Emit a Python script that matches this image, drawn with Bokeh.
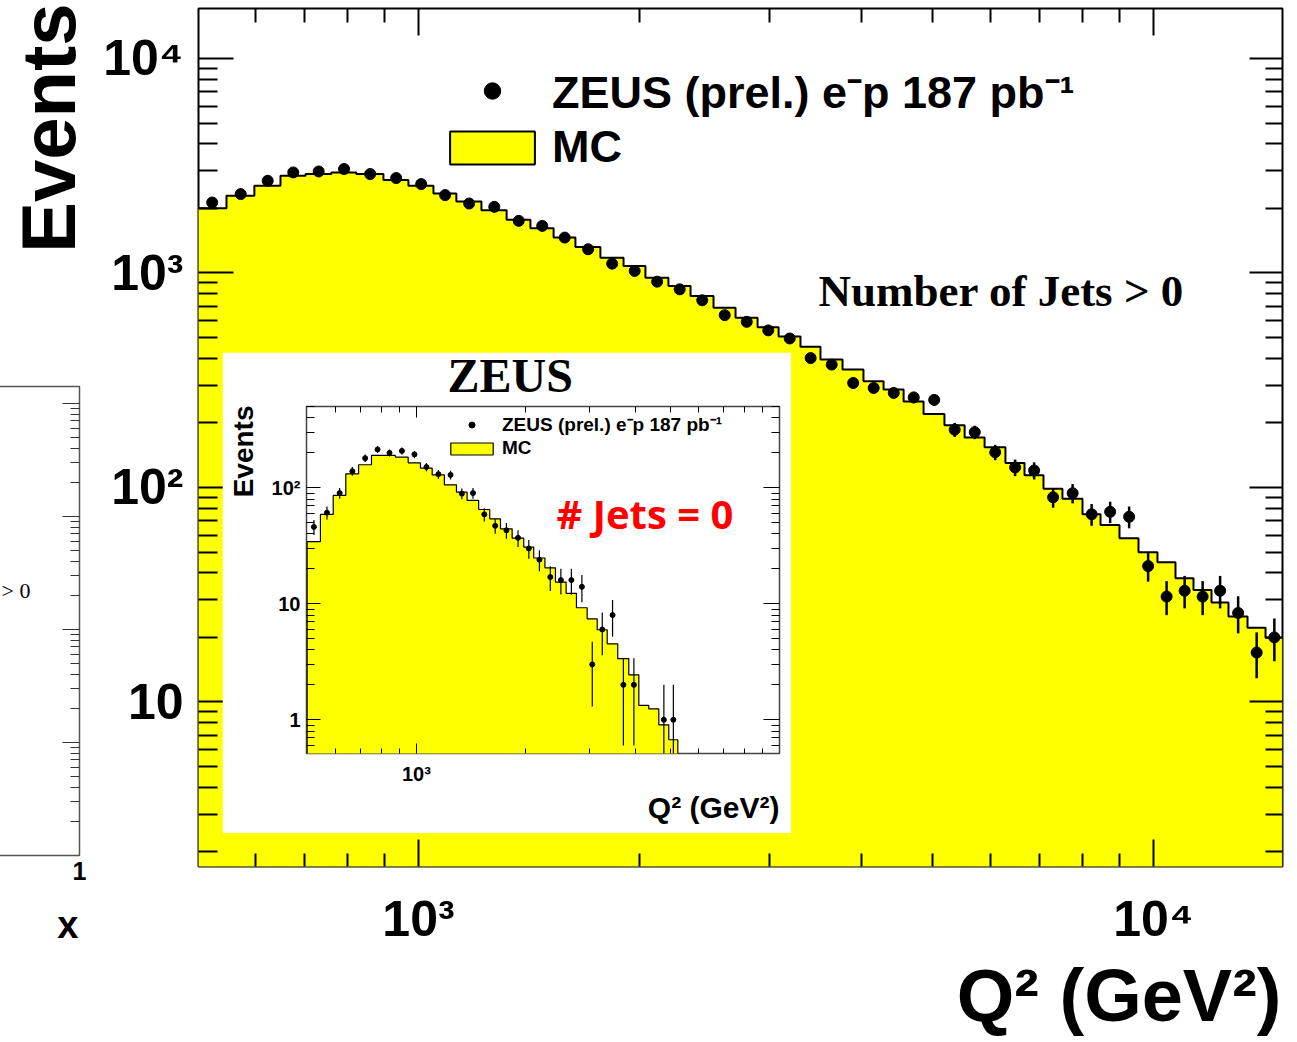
import math
from bokeh.plotting import figure
from bokeh.models import Range1d, FixedTicker, LogAxis, Legend, LegendItem
from bokeh.embed import file_html
from bokeh.resources import INLINE
from bokeh.core.properties import value

# ---------------- data ----------------
# main panel: Number of Jets > 0
main_edges = [500, 548, 598, 649, 702, 761, 823, 896, 969, 1048,
              1126, 1218, 1318, 1420, 1527, 1635, 1768, 1901, 2036, 2188,
              2345, 2520, 2700, 2893, 3090, 3309, 3523, 3775, 4031, 4293,
              4571, 4866, 5195, 5534, 5891, 6289, 6676, 7085, 7518, 8006,
              8471, 8989, 9541, 10125, 10713, 11335, 11993, 12648, 13425, 14205,
              15000]
main_mc = [2005, 2290, 2550, 2840, 2893, 2943, 2893, 2712, 2550, 2348,
           2154, 1963, 1769, 1618, 1462, 1323, 1179, 1078, 951, 870,
           781, 688, 618, 559, 505, 453, 395, 355, 313, 286,
           252, 220, 195, 171, 154, 130, 114, 98.6, 88.5, 75.0,
           66.9, 58.0, 49.9, 44.8, 37.7, 33.3, 29.1, 25.0, 22.2, 19.9]
main_data = [2131, 2332, 2691, 2943, 2974, 3052, 2893, 2770, 2597, 2307,
             2108, 2034, 1750, 1658, 1462, 1290, 1105, 1022, 911, 839,
             746, 636, 592, 540, 495, 401, 374, 307, 291, 276,
             263, 256, 186, 181, 146, 124, 120, 90, 94, 75,
             77, 73, 43, 31, 33, 31, 33, 26, 17, 20]
main_err = [46, 48, 52, 54, 55, 55, 54, 53, 51, 48,
            46, 45, 42, 41, 38, 36, 33, 32, 30, 29,
            27, 25, 24, 23, 22, 20, 19, 18, 17, 17,
            16, 16, 14, 13, 12, 11, 11, 9.5, 9.7, 8.7,
            8.8, 8.5, 6.6, 5.6, 5.7, 5.6, 5.7, 5.1, 4.1, 4.5]

# inset panel: # Jets = 0
inset_edges = [500, 544, 590, 639, 693, 752, 811, 875, 949, 1026,
               1105, 1194, 1289, 1379, 1484, 1592, 1704, 1835, 1975, 2104,
               2259, 2415, 2584, 2759, 2953, 3147, 3353, 3585, 3845, 4098,
               4365, 4651, 4955, 5247]
inset_mc = [34.4, 58.9, 85.9, 132, 158, 190, 190, 184, 164, 148,
            129, 106, 91.6, 77.8, 65.0, 54.0, 44.3, 36.8, 30.8, 24.8,
            20.4, 15.4, 12.3, 9.24, 7.42, 5.97, 4.52, 3.36, 2.44, 1.33,
            1.24, 0.905, 0.673]
inset_data = [46, 61, 90, 139, 180, 214, 200, 208, 194, 151,
              131, 129, 89, 90, 59, 47, 43, 37, 30, 24,
              17, 16, 16, 14, 3, 6, 8, 2, 2, 0,
              0, 1, 1]
inset_err = [6.8, 7.8, 9.5, 11.8, 13.4, 14.6, 14.1, 14.4, 13.9, 12.3,
             11.4, 11.4, 9.4, 9.5, 7.7, 6.9, 6.6, 6.1, 5.5, 4.9,
             4.1, 4.0, 4.0, 3.7, 1.7, 2.4, 2.8, 1.4, 1.4, 0,
             0, 1.0, 1.0]

# ticks and labels
main_x_major = [1000, 10000]
main_x_labels = ["10³", "10⁴"]
main_x_minor = [600, 700, 800, 900, 2000, 3000, 4000, 5000, 6000, 7000, 8000, 9000]
main_y_major = [10, 100, 1000, 10000]
main_y_labels = ["10", "10²", "10³", "10⁴"]
main_y_minor = [2, 3, 4, 5, 6, 7, 8, 9, 20, 30, 40, 50, 60, 70, 80, 90,
                200, 300, 400, 500, 600, 700, 800, 900,
                2000, 3000, 4000, 5000, 6000, 7000, 8000, 9000]
inset_x_major = [1000]
inset_x_labels = ["10³"]
inset_x_minor = [600, 700, 800, 900, 2000, 3000, 4000, 5000, 6000, 7000, 8000, 9000]
inset_y_major = [1, 10, 100]
inset_y_labels = ["1", "10", "10²"]
inset_y_minor = [0.6, 0.7, 0.8, 0.9, 2, 3, 4, 5, 6, 7, 8, 9,
                 20, 30, 40, 50, 60, 70, 80, 90, 200, 300, 400, 500]
side_x_major = [1]
side_x_labels = ["1"]
side_y_major = [10, 100, 1000, 10000]
side_y_minor = [2, 3, 4, 5, 6, 7, 8, 9, 20, 30, 40, 50, 60, 70, 80, 90,
                200, 300, 400, 500, 600, 700, 800, 900,
                2000, 3000, 4000, 5000, 6000, 7000, 8000, 9000]

legend_data_label = "ZEUS (prel.) e⁻p 187 pb⁻¹"
legend_mc_label = "MC"

YELLOW = "#ffff00"
SANS = "Liberation Sans"
SERIF = "Liberation Serif"


# ---------------- helpers ----------------
def pos(left, top):
    return {"position": "absolute", "left": f"{left}px", "top": f"{top}px"}


def centers(edges):
    return [(a + b) / 2 for a, b in zip(edges[:-1], edges[1:])]


def outline(edges, vals, floor):
    xs = [edges[0]]
    ys = [floor]
    for a, b, v in zip(edges[:-1], edges[1:], vals):
        xs += [a, b]
        ys += [v, v]
    xs.append(edges[-1])
    ys.append(floor)
    return xs, ys


def style_axis(ax, major, minor, labels, size, tin, tmin, lw, standoff, color="black"):
    ax.ticker = FixedTicker(ticks=major, minor_ticks=minor)
    ax.axis_line_color = None
    ax.major_tick_in = tin
    ax.major_tick_out = 0
    ax.minor_tick_in = tmin
    ax.minor_tick_out = 0
    ax.major_tick_line_color = color
    ax.minor_tick_line_color = color
    ax.major_tick_line_width = lw
    ax.minor_tick_line_width = lw
    ax.major_label_standoff = standoff
    if labels is None:
        ax.major_label_overrides = {t: "" for t in major}
        ax.major_label_text_font_size = "0px"
    else:
        ax.major_label_overrides = dict(zip(major, labels))
        ax.major_label_text_font_size = f"{size}px"
        ax.major_label_text_font = SANS
        ax.major_label_text_font_style = "bold"
        ax.major_label_text_color = "black"


def draw_hist(p, edges, mc, data, err, floor, msize, lw, elw):
    xs, ys = outline(edges, mc, floor)
    patch = p.patch(xs, ys, fill_color=YELLOW, line_color="black", line_width=lw)
    ctr = [c for c, d in zip(centers(edges), data) if d > 0]
    dv = [d for d in data if d > 0]
    ev = [e for d, e in zip(data, err) if d > 0]
    lo = [max(d - e, floor / 10) for d, e in zip(dv, ev)]
    hi = [d + e for d, e in zip(dv, ev)]
    p.segment(x0=ctr, x1=ctr, y0=lo, y1=hi, line_color="black", line_width=elw)
    pts = p.scatter(ctr, dv, size=msize, color="black", marker="circle")
    return patch, pts


# ---------------- main panel ----------------
main = figure(width=1290, height=1040, x_axis_type="log", y_axis_type="log",
              x_range=Range1d(502, 14980), y_range=Range1d(1.71, 17100),
              output_backend="svg", toolbar_location=None,
              min_border_left=198, min_border_right=8, min_border_top=8, min_border_bottom=174,
              background_fill_color="white", border_fill_color="white",
              styles=pos(0, 0))
main.grid.visible = False
main.outline_line_color = "black"
main.outline_line_width = 2
style_axis(main.xaxis[0], main_x_major, main_x_minor, main_x_labels, 50, 27, 13, 2, 24)
style_axis(main.yaxis[0], main_y_major, main_y_minor, main_y_labels, 50, 35, 19, 2, 15)
ax_top = LogAxis()
style_axis(ax_top, main_x_major, main_x_minor, None, 0, 27, 14, 2, 0)
main.add_layout(ax_top, "above")
ax_right = LogAxis()
style_axis(ax_right, main_y_major, main_y_minor, None, 0, 33, 17, 2, 0)
main.add_layout(ax_right, "right")

m_patch, m_pts = draw_hist(main, main_edges, main_mc, main_data, main_err, 1.0, 11, 2, 2.5)

main_legend = Legend(items=[LegendItem(label=value(legend_data_label), renderers=[m_pts]),
                            LegendItem(label=value(legend_mc_label), renderers=[m_patch])],
                     location=(241, 693), orientation="vertical",
                     glyph_width=106, glyph_height=41, label_height=52, label_standoff=7,
                     spacing=0, padding=0, margin=0,
                     border_line_color=None, background_fill_alpha=0,
                     label_text_font=SANS, label_text_font_style="bold",
                     label_text_font_size="45px", label_text_color="black")
main.add_layout(main_legend)

# ---------------- partial neighbouring panel (left) ----------------
side = figure(width=130, height=511, y_axis_type="log",
              x_range=Range1d(0, 1), y_range=Range1d(1, 14130),
              output_backend="svg", toolbar_location=None, y_axis_location=None,
              min_border_left=0, min_border_right=21, min_border_top=2, min_border_bottom=40,
              background_fill_color="white", border_fill_color=None,
              styles=pos(-30, 384))
side.grid.visible = False
side.outline_line_color = "#555555"
side.outline_line_width = 1.5
style_axis(side.xaxis[0], side_x_major, [], side_x_labels, 25, 0, 0, 1, 6)
side.xaxis[0].major_tick_line_color = None
side.xaxis[0].minor_tick_line_color = None
side_right = LogAxis()
style_axis(side_right, side_y_major, side_y_minor, None, 0, 17, 9, 1, 0, color="#333333")
side.add_layout(side_right, "right")

# ---------------- inset panel ----------------
inset = figure(width=569, height=481, x_axis_type="log", y_axis_type="log",
               x_range=Range1d(498, 10000), y_range=Range1d(0.512, 502),
               output_backend="svg", toolbar_location=None,
               min_border_left=84, min_border_right=12, min_border_top=54, min_border_bottom=80,
               background_fill_color="white", border_fill_color="white",
               styles=pos(222, 352))
inset.grid.visible = False
inset.outline_line_color = "#444444"
inset.outline_line_width = 1.5
style_axis(inset.xaxis[0], inset_x_major, inset_x_minor, inset_x_labels, 20, 10, 5, 1, 9)
style_axis(inset.yaxis[0], inset_y_major, inset_y_minor, inset_y_labels, 20, 14, 8, 1, 6)
in_top = LogAxis()
style_axis(in_top, inset_x_major, inset_x_minor, None, 0, 11, 6, 1, 0)
inset.add_layout(in_top, "above")
in_right = LogAxis()
style_axis(in_right, inset_y_major, inset_y_minor, None, 0, 16, 8, 1, 0)
inset.add_layout(in_right, "right")

i_patch, i_pts = draw_hist(inset, inset_edges, inset_mc, inset_data, inset_err, 0.1, 5, 1.2, 1.2)

inset_legend = Legend(items=[LegendItem(label=value(legend_data_label), renderers=[i_pts]),
                             LegendItem(label=value(legend_mc_label), renderers=[i_patch])],
                      location=(139, 294), orientation="vertical",
                      glyph_width=53, glyph_height=15, label_height=20, label_standoff=4,
                      spacing=0, padding=0, margin=0,
                      border_line_color=None, background_fill_alpha=0,
                      label_text_font=SANS, label_text_font_style="bold",
                      label_text_font_size="19px", label_text_color="black")
inset.add_layout(inset_legend)

# ---------------- free texts (page overlay) ----------------
ov = figure(width=1290, height=1040, x_range=Range1d(0, 1290), y_range=Range1d(1040, 0),
            x_axis_location=None, y_axis_location=None, min_border=0,
            output_backend="svg", toolbar_location=None,
            background_fill_color=None, border_fill_color=None, outline_line_color=None,
            styles=pos(0, 0))
ov.grid.visible = False

BASE_SHIFT = 0.36  # measured offset of the rendered baseline below the anchor, in em


def put(x, y, txt, size, font=SANS, style="bold", align="left", angle=0.0, color="black"):
    # (x, y) is the desired baseline point in page pixels
    if angle:
        x = x - BASE_SHIFT * size
    else:
        y = y - BASE_SHIFT * size
    ov.text(x=[x], y=[y], text=[txt], angle=angle, text_font=value(font),
            text_font_style=style, text_font_size=f"{size}px", text_align=align,
            text_baseline="alphabetic", text_color=color)


put(75, 3, "Events", 76, align="right", angle=math.pi / 2)
put(1281, 1022, "Q² (GeV²)", 74, align="right")
put(818, 307, "Number of Jets > 0", 45, font=SERIF)
put(447, 392, "ZEUS", 48, font=SERIF)
put(253, 405, "Events", 28, align="right", angle=math.pi / 2)
put(779, 818, "Q² (GeV²)", 30, align="right")
put(556, 527, "# Jets = 0", 40, font="Open Sans", color="#ff0000")
put(30, 598, "> 0", 22, font=SERIF, style="normal", align="right")
put(78, 938, "x", 38, align="right")

open("out.html", "w").write(file_html([main, side, inset, ov], INLINE))
